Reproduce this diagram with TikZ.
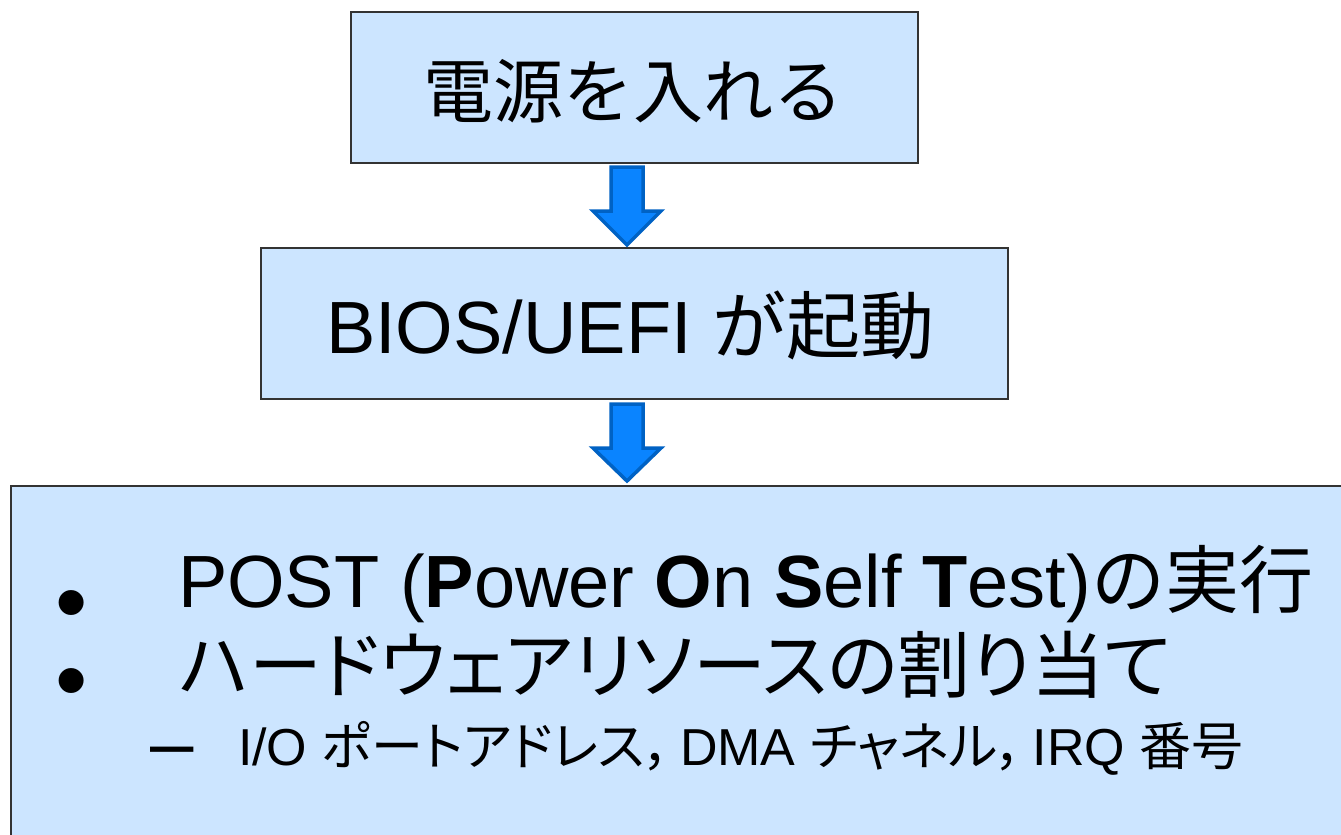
\documentclass[tikz,border=0pt]{standalone}
\usepackage{fontspec}
\usetikzlibrary{calc}
\setmainfont{Liberation Sans}
\newfontfamily\jp{Noto Sans CJK JP}
\newfontfamily\jpp[RawFeature=+palt]{Noto Sans CJK JP}
\definecolor{boxfill}{HTML}{CCE5FF}
\definecolor{boxline}{HTML}{333333}
\definecolor{arrfill}{HTML}{0A84FF}
\definecolor{arrline}{HTML}{0062C4}
\tikzset{
  stepbox/.style={draw=boxline, fill=boxfill, line width=1.2pt},
  txt/.style={inner sep=0pt, outer sep=0pt, text=black},
  bulletmark/.style={txt, anchor=base, text height=44pt, text depth=0pt, font=\fontsize{92}{92}\selectfont},
  downarrow/.style={draw=arrline, fill=arrfill, line width=3.5pt, line join=miter},
}
\begin{document}
\begin{tikzpicture}[x=1pt,y=-1pt]
\useasboundingbox (0,0) rectangle (1341,835);
\fill[white] (0,0) rectangle (1341,835);
% boxes
\draw[stepbox] (351,12) rectangle (918,163);
\draw[stepbox] (261,248) rectangle (1008,399);
\draw[stepbox] (11,486) rectangle (1360,850);
% box anchors
\coordinate (b1s) at (627,167);
\coordinate (b2n) at (627,245);
\coordinate (b2s) at (627,404);
\coordinate (b3n) at (627,481);
% arrows
\draw[downarrow] ($(b1s)+(-16,0)$) -- ($(b1s)+(16,0)$) -- ($(b1s)+(16,44)$) -- ($(b1s)+(34,44)$) -- (b2n) -- ($(b1s)+(-34,44)$) -- ($(b1s)+(-16,44)$) -- cycle;
\draw[downarrow] ($(b2s)+(-16,0)$) -- ($(b2s)+(16,0)$) -- ($(b2s)+(16,44)$) -- ($(b2s)+(34,44)$) -- (b3n) -- ($(b2s)+(-34,44)$) -- ($(b2s)+(-16,44)$) -- cycle;
% texts
\node[txt, anchor=base] (t1) at (633,117) {\jp\fontsize{70}{70}\selectfont 電源を入れる};
\node[txt, anchor=base west] (t2) at (326,353) {\fontsize{74}{74}\selectfont BIOS/UEFI {\jp が起動}};
\node[bulletmark] (bul1) at (72,633) {\textbullet};
\node[txt, anchor=base west] (l1) at (178,607) {\fontsize{74}{74}\selectfont POST (\textbf{P}ower \textbf{O}n \textbf{S}elf \textbf{T}est){\jp の実行}};
\node[bulletmark] (bul2) at (72,711) {\textbullet};
\node[txt, anchor=base west] (l2) at (180,692) {\jpp\fontsize{73}{73}\selectfont ハードウェアリソースの割り当て};
\node[txt, anchor=base west] (dash) at (150,769) {\fontsize{78}{78}\selectfont –};
\node[txt, anchor=base west] (l3) at (238,765) {\fontsize{52}{52}\selectfont I/O {\jpp ポートアドレス，}\,DMA {\jpp チャネル，}\,IRQ {\jpp 番号}};
\end{tikzpicture}
\end{document}
